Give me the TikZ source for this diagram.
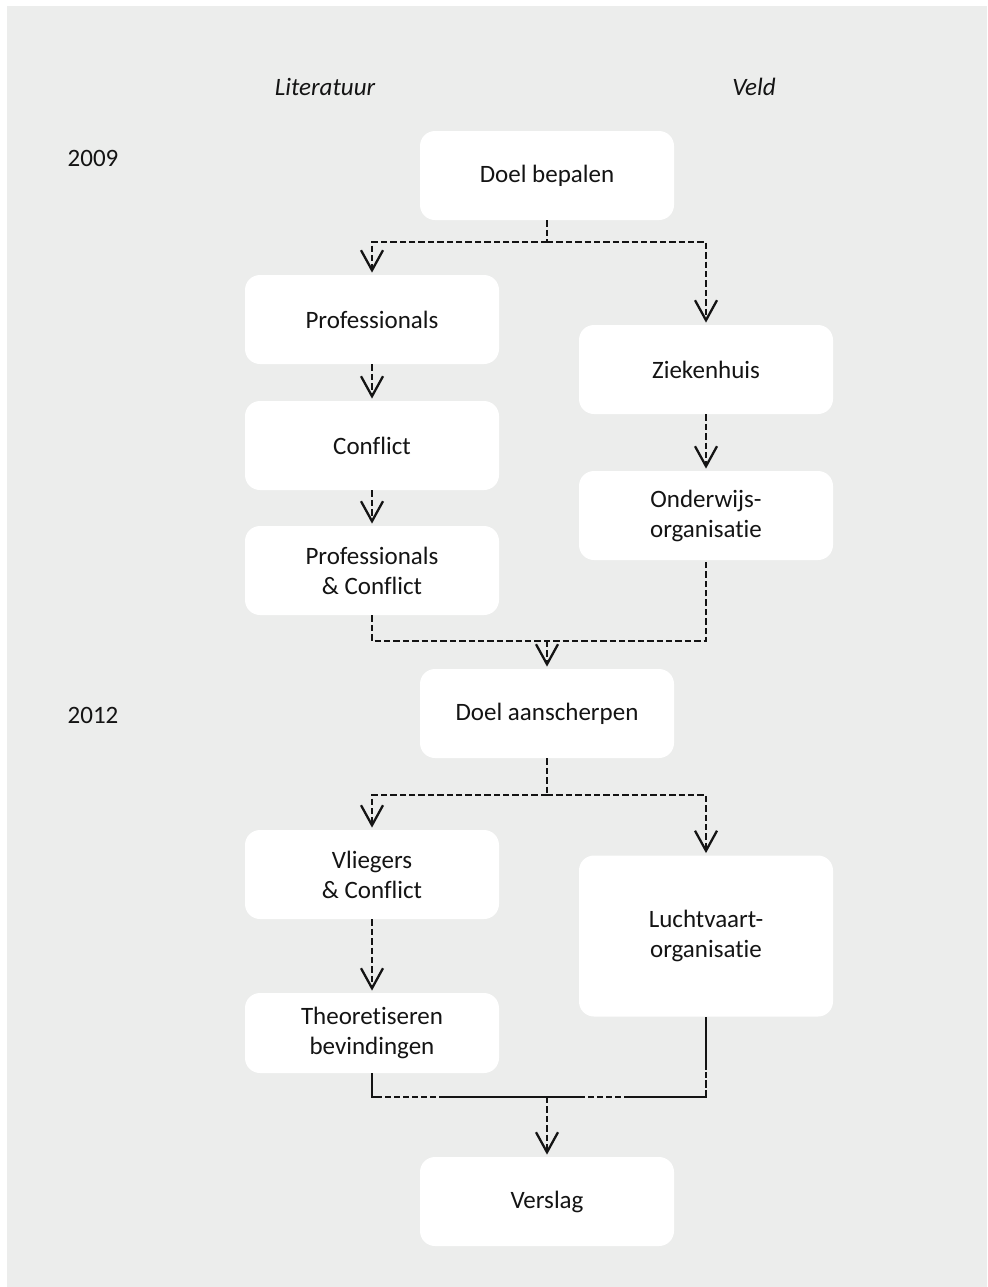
\documentclass[tikz,border=0pt]{standalone}
\usepackage{fontspec}
\setmainfont[Ligatures={NoCommon}]{Carlito}
\usetikzlibrary{arrows.meta}
\definecolor{panel}{HTML}{ECEDEC}
\definecolor{ink}{HTML}{141414}
\begin{document}
\begin{tikzpicture}[x=0.5pt,y=-0.5pt,
  txt/.style={font=\fontsize{12.5}{15}\selectfont, text=ink},
  header/.style={font=\fontsize{12.5}{15}\selectfont\itshape, text=ink},
  stage/.style={txt, fill=white, rounded corners=7.5pt, minimum width=127pt,
    minimum height=44.5pt, align=center, inner sep=0pt},
  dashline/.style={draw=ink, line width=1.15pt, dash pattern=on 3.2pt off 1.5pt},
  flow/.style={dashline, shorten >=1pt,
    -{Straight Barb[length=10pt,width=11pt,line width=1.15pt]}},
  merge/.style={draw=ink, line width=0.8pt, dash pattern=on 17pt
    off 1.5pt on 3pt off 1.5pt on 3pt off 1.5pt on 3pt off 1.5pt on 3pt
    off 1.5pt on 3pt off 1.5pt on 3pt off 1.5pt on 73pt
    off 1.5pt on 3pt off 1.5pt on 3pt off 1.5pt on 3pt off 1.5pt on 3pt
    off 1.5pt on 44.5pt off 1pt on 4pt off 1pt on 3pt off 1pt on 100pt}
]
% canvas
\fill[white] (0,0) rectangle (987,1287);
\fill[panel] (7,6) rectangle (987,1287);
\useasboundingbox (0,0) rectangle (987,1287);

% column headers and years
\node[header] (lit) at (325,87) {Literatuur};
\node[header] (veld) at (754,87) {Veld};
\node[txt] (y2009) at (93,158) {2009};
\node[txt] (y2012) at (93,715) {2012};

% stages
\node[stage] (goal) at (547,175.5) {Doel bepalen};
\node[stage] (prof) at (372,319.5) {Professionals};
\node[stage] (confl) at (372,445.5) {Conflict};
\node[stage] (profconfl) at (372,570.5) {Professionals\\\& Conflict};
\node[stage] (hosp) at (706,369.5) {Ziekenhuis};
\node[stage] (edu) at (706,515.5) {Onderwijs-\\organisatie};
\node[stage] (sharpen) at (547,713.5) {Doel aanscherpen};
\node[stage] (pilots) at (372,874.5) {Vliegers\\\& Conflict};
\node[stage, minimum height=80.5pt] (aviation) at (706,936) {Luchtvaart-\\organisatie};
\node[stage, minimum height=40pt] (theory) at (372,1033) {Theoretiseren\\bevindingen};
\node[stage] (report) at (547,1201.5) {Verslag};

% branch points
\coordinate (split1) at (547,242);
\coordinate (join1) at (547,641);
\coordinate (split2) at (547,795);
\coordinate (join2) at (547,1097);

% first phase
\draw[dashline] (goal.south) -- (split1);
\draw[flow] (split1) -| (prof.north);
\draw[flow] (split1) -| (hosp.north);
\draw[flow] (prof.south) -- (confl.north);
\draw[flow] (confl.south) -- (profconfl.north);
\draw[flow] (hosp.south) -- (edu.north);
\draw[dashline] (profconfl.south) |- (join1) -| (edu.south);
\draw[flow] (join1) -- (sharpen.north);

% second phase
\draw[dashline] (sharpen.south) -- (split2);
\draw[flow] (split2) -| (pilots.north);
\draw[flow] (split2) -| (aviation.north);
\draw[flow] (pilots.south) -- (theory.north);
\draw[merge] (theory.south) |- (join2) -| (aviation.south);
\draw[flow] (join2) -- (report.north);
\end{tikzpicture}
\end{document}
